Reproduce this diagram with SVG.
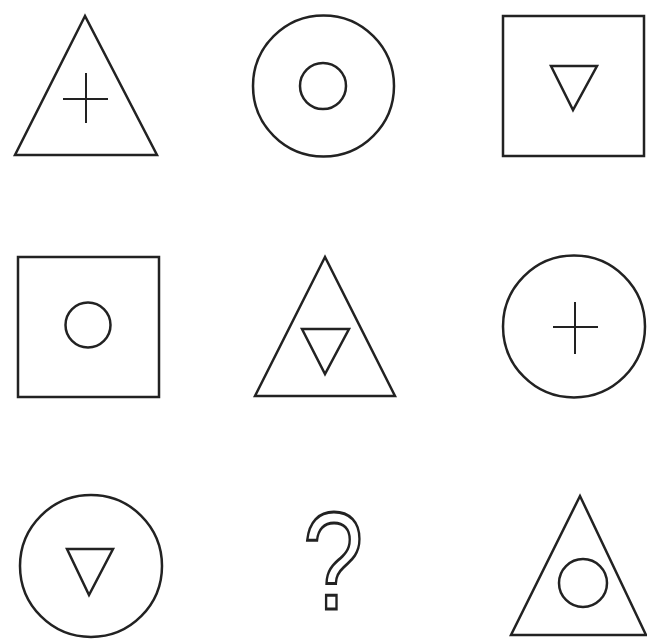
<svg xmlns="http://www.w3.org/2000/svg" width="647" height="640" viewBox="0 0 647 640">
<style>
.s{fill:none;stroke:#222;stroke-width:2.5;stroke-linejoin:miter}
.t{fill:none;stroke:#222;stroke-width:2}
.q{font-family:"Liberation Sans",Arial,sans-serif;font-size:140px;fill:#fff;stroke:#222;stroke-width:3;text-anchor:middle}
</style>
<rect width="647" height="640" fill="#fff"/>
<g id="cell-1-1">
<polygon class="s" points="85,16 15,155 157,155"/>
<path class="t" d="M63,99H108M86,73V123"/>
</g>
<g id="cell-1-2">
<circle class="s" cx="323.5" cy="86" r="70.5"/>
<circle class="s" cx="323" cy="86" r="23"/>
</g>
<g id="cell-1-3">
<rect class="s" x="503" y="16" width="141" height="140"/>
<polygon class="s" points="551,66 597,66 573,110"/>
</g>
<g id="cell-2-1">
<rect class="s" x="18" y="257" width="141" height="140"/>
<circle class="s" cx="88" cy="325" r="22.5"/>
</g>
<g id="cell-2-2">
<polygon class="s" points="325,257 255,396 395,396"/>
<polygon class="s" points="302,329 349,329 325,374"/>
</g>
<g id="cell-2-3">
<circle class="s" cx="574" cy="326.5" r="71"/>
<path class="t" d="M553,327H598M575,302V354"/>
</g>
<g id="cell-3-1">
<circle class="s" cx="91" cy="566" r="71"/>
<polygon class="s" points="67,549 113,549 89,595"/>
</g>
<g id="cell-3-2">
<text class="q" transform="translate(333,609) scale(0.78,1)" x="0" y="0">?</text>
</g>
<g id="cell-3-3">
<polygon class="s" points="580,496 511,635 646,635"/>
<circle class="s" cx="583" cy="583" r="24"/>
</g>
</svg>
